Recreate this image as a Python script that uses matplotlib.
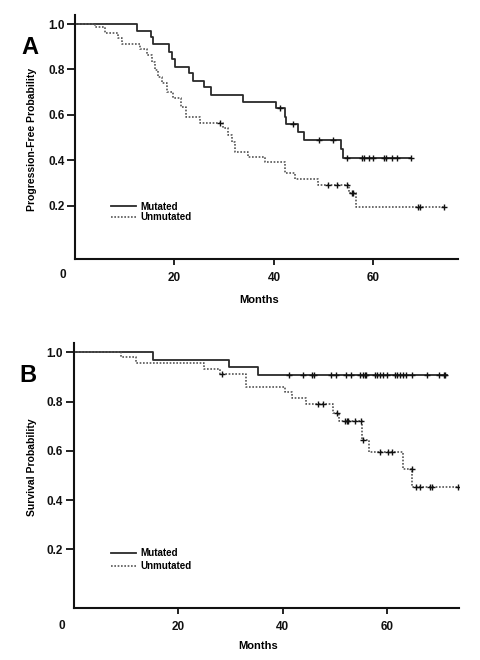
import numpy as np
import matplotlib
matplotlib.use('Agg')
import matplotlib.pyplot as plt
from matplotlib.lines import Line2D

plt.rcParams['font.family'] = ['Liberation Sans', 'DejaVu Sans']
plt.rcParams['font.weight'] = 'bold'

# ---------------- Data ----------------
# Panel A: progression-free probability
pfs_mut_times = [0, 12.4, 15.2, 15.6, 18.9, 19.6, 20.1, 22.9, 23.8, 25.9, 27.3,
                 33.8, 40.5, 42.2, 42.5, 44.8, 46.0, 53.4, 53.8]
pfs_mut_surv = [1.0, 0.970, 0.944, 0.911, 0.878, 0.846, 0.812, 0.783, 0.750, 0.724,
                0.687, 0.658, 0.629, 0.592, 0.559, 0.523, 0.489, 0.448, 0.408]
pfs_mut_end = 67.5
pfs_mut_cens = [41.2, 43.9, 49.1, 51.8, 54.6, 57.8, 58.1, 59.2, 60.0, 62.2, 62.5,
                63.7, 64.8, 67.5]

pfs_unm_times = [0, 4.0, 6.0, 8.7, 9.4, 13.1, 14.4, 15.4, 16.1, 16.7, 17.4, 18.4,
                 19.8, 21.4, 22.4, 25.1, 29.8, 30.8, 31.5, 32.2, 34.8, 38.2, 42.2,
                 44.2, 48.9, 55.1, 56.4]
pfs_unm_surv = [1.0, 0.988, 0.959, 0.937, 0.912, 0.889, 0.863, 0.834, 0.797, 0.768,
                0.739, 0.702, 0.673, 0.636, 0.592, 0.563, 0.541, 0.511, 0.481, 0.437,
                0.415, 0.391, 0.342, 0.316, 0.291, 0.254, 0.195]
pfs_unm_end = 74.2
pfs_unm_cens = [29.1, 50.9, 52.6, 54.6, 55.7, 55.9, 68.9, 69.3, 74.2]

# Panel B: overall survival probability
os_mut_times = [0, 15.1, 29.7, 35.3]
os_mut_surv = [1.0, 0.969, 0.939, 0.909]
os_mut_end = 71.4
os_mut_cens = [41.2, 43.9, 45.6, 46.0, 49.2, 50.2, 52.0, 53.0, 54.8, 55.3, 55.7,
               56.0, 57.6, 58.1, 58.6, 59.1, 60.0, 61.5, 61.9, 62.4, 62.9, 63.6,
               64.8, 67.5, 69.9, 70.8, 71.1]

os_unm_times = [0, 9.0, 11.9, 25.0, 28.0, 33.0, 40.4, 41.7, 44.4, 49.7, 50.8,
                55.1, 56.5, 63.0, 64.8]
os_unm_surv = [1.0, 0.982, 0.955, 0.932, 0.911, 0.860, 0.838, 0.816, 0.790, 0.752,
               0.722, 0.644, 0.594, 0.526, 0.452]
os_unm_end = 73.6
os_unm_cens = [28.3, 46.8, 47.6, 50.3, 51.9, 52.2, 52.5, 53.8, 55.0, 55.4, 58.6,
               60.2, 60.8, 64.7, 65.5, 66.2, 68.1, 68.6, 73.6]

groups = ['Mutated', 'Unmutated']
x_ticks = [20, 40, 60]
y_ticks = [0.2, 0.4, 0.6, 0.8, 1.0]
y_ticklabels = ['0.2', '0.4', '0.6', '0.8', '1.0']

# ---------------- Styles ----------------
MUT_STYLE = dict(color='#2a2a2a', lw=1.3, ls='-')
UNM_STYLE = dict(color='#555555', lw=1.2, ls=(0, (1, 1)))

W, H = 480, 660
fig = plt.figure(figsize=(W / 100, H / 100), dpi=100)
axA = fig.add_axes([75 / W, 1 - 259.3 / H, 383 / W, 244.3 / H])
axB = fig.add_axes([73.6 / W, 1 - 607.7 / H, 385.4 / W, 265 / H])


def km(ax, times, surv, end, cens, style):
    t = list(times) + [end]
    s = list(surv) + [surv[-1]]
    ax.step(t, s, where='post', **style)
    idx = np.searchsorted(np.array(times), np.array(cens), side='right') - 1
    ax.plot(cens, np.array(surv)[idx], ls='none', marker='+', ms=5, mew=1.0,
            color='#111111')


def style_ax(ax, xmax, ylo, yhi, zero_off):
    ax.set_xlim(0, xmax)
    ax.set_ylim(ylo, yhi)
    for s in ['top', 'right']:
        ax.spines[s].set_visible(False)
    for s in ['left', 'bottom']:
        ax.spines[s].set_linewidth(1.5)
        ax.spines[s].set_color('#111111')
    ax.set_xticks(x_ticks)
    ax.set_xticklabels([str(v) for v in x_ticks])
    ax.set_yticks(y_ticks)
    ax.set_yticklabels(y_ticklabels)
    ax.tick_params(axis='y', direction='out', length=6, width=1.3, pad=1.5,
                   labelsize=8.5, colors='#111111')
    ax.tick_params(axis='x', direction='out', length=4, width=1.3, pad=5.5,
                   labelsize=8.5, colors='#111111')
    ax.annotate('0', xy=(0, 0), xycoords='axes fraction',
                xytext=zero_off, textcoords='offset pixels',
                ha='center', va='center', fontsize=8.5, fontweight='bold',
                color='#111111')


km(axA, pfs_mut_times, pfs_mut_surv, pfs_mut_end, pfs_mut_cens, MUT_STYLE)
km(axA, pfs_unm_times, pfs_unm_surv, pfs_unm_end, pfs_unm_cens, UNM_STYLE)
style_ax(axA, 77, -0.0366, 1.040, (-12, -16))

km(axB, os_mut_times, os_mut_surv, os_mut_end, os_mut_cens, MUT_STYLE)
km(axB, os_unm_times, os_unm_surv, os_unm_end, os_unm_cens, UNM_STYLE)
style_ax(axB, 73.7, -0.037, 1.039, (-12, -18))

handles = [Line2D([], [], **MUT_STYLE), Line2D([], [], **UNM_STYLE)]
for ax, top, sp in [(axA, 201.5, 0.1), (axB, 548.0, 0.35)]:
    ax.legend(handles, groups, loc='upper left',
              bbox_to_anchor=(111 / W, 1 - top / H), bbox_transform=fig.transFigure,
              frameon=False, handlelength=2.6, handletextpad=0.4,
              labelspacing=sp, borderpad=0, borderaxespad=0,
              prop={'weight': 'bold', 'size': 7})

# axis titles
fig.text(32 / W, 1 - 139 / H, 'Progression-Free Probability', rotation=90,
         ha='center', va='center', fontsize=7.5, fontweight='bold')
fig.text(32 / W, 1 - 467 / H, 'Survival Probability', rotation=90,
         ha='center', va='center', fontsize=7.5, fontweight='bold')
fig.text(259 / W, 1 - 300 / H, 'Months', ha='center', va='center',
         fontsize=8, fontweight='bold')
fig.text(258 / W, 1 - 645.7 / H, 'Months', ha='center', va='center',
         fontsize=8, fontweight='bold')

# panel letters
fig.text(29.7 / W, 1 - 47 / H, 'A', ha='center', va='center', fontsize=17,
         fontweight='bold')
fig.text(27.5 / W, 1 - 375.5 / H, 'B', ha='center', va='center', fontsize=17,
         fontweight='bold')

fig.savefig('out.png', dpi=100)
